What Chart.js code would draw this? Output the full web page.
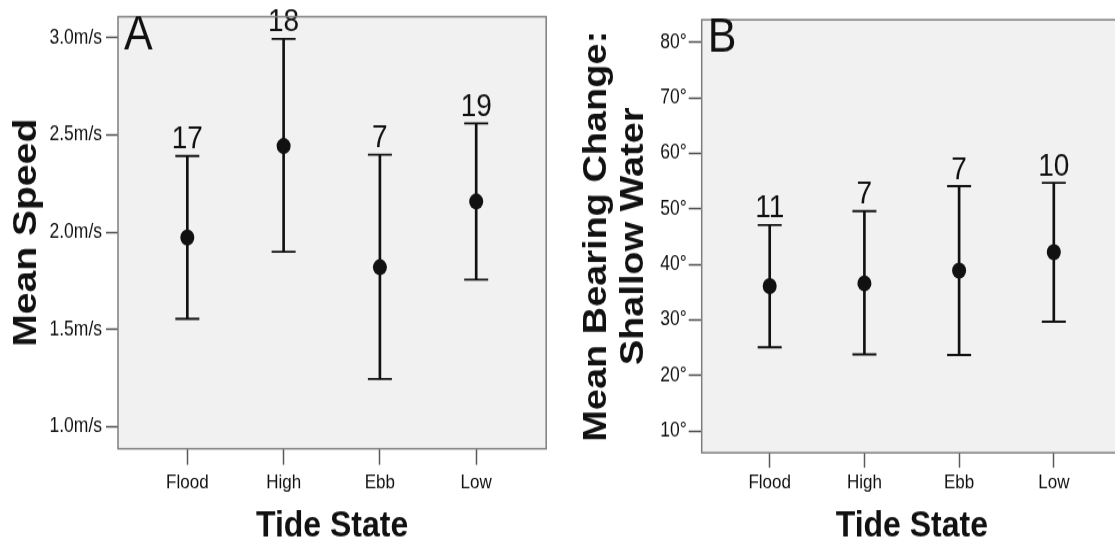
<!DOCTYPE html>
<html>
<head>
<meta charset="utf-8">
<script src="https://cdn.jsdelivr.net/npm/chart.js@4.4.1/dist/chart.umd.min.js"></script>
<style>
  html, body { margin: 0; padding: 0; background: #fff; overflow: hidden; }
  #page { position: relative; width: 1115px; height: 548px; overflow: hidden; }
  /* panels are drawn a bit shorter and stretched vertically */
  .panel { position: absolute; top: 0; transform-origin: 0 0; transform: scaleY(1.1488); }
  #panelA { left: 0; }
  #panelB { left: 560px; }
</style>
</head>
<body>
<div id="page">
  <div class="panel" id="panelA"><canvas id="chartA" width="560" height="477"></canvas></div>
  <div class="panel" id="panelB"><canvas id="chartB" width="580" height="477"></canvas></div>
</div>
<script>
const tideStates = ['Flood', 'High', 'Ebb', 'Low'];

// A: mean speed (m/s) with error bars
const speedMean  = [1.974, 2.444, 1.821, 2.159];
const speedLower = [1.556, 1.901, 1.247, 1.758];
const speedUpper = [2.393, 2.995, 2.400, 2.560];
const speedN     = [17, 18, 7, 19];
const speedTicks = [1.0, 1.5, 2.0, 2.5, 3.0];

// B: mean bearing change in shallow water (degrees)
const bearingMean  = [36.1, 36.6, 38.9, 42.2];
const bearingLower = [25.1, 23.8, 23.7, 29.7];
const bearingUpper = [47.1, 49.6, 54.1, 54.7];
const bearingN     = [11, 7, 7, 10];
const bearingTicks = [10, 20, 30, 40, 50, 60, 70, 80];

const FONT = "'Liberation Sans', Arial, Helvetica, sans-serif";
const INK = '#111';

const framePlugin = {
  id: 'frame',
  beforeDraw(chart) {
    const { ctx, chartArea: a } = chart;
    ctx.save();
    ctx.fillStyle = '#f1f1f1';
    ctx.fillRect(a.left, a.top, a.width, a.height);
    ctx.restore();
  },
  afterDraw(chart, args, opts) {
    const { ctx, chartArea: a } = chart;
    ctx.save();
    ctx.strokeStyle = '#7d7d7d';
    ctx.lineWidth = 1.5;
    ctx.strokeRect(a.left, a.top, a.width, a.height);
    // panel letter
    ctx.fillStyle = INK;
    ctx.font = '43px ' + FONT;
    ctx.textAlign = 'left';
    ctx.textBaseline = 'alphabetic';
    ctx.fillText(opts.letter, a.left + 6, a.top + 28);
    ctx.restore();
  }
};

// sample sizes written above each upper cap
const countPlugin = {
  id: 'counts',
  afterDatasetsDraw(chart, args, opts) {
    const { ctx, scales } = chart;
    ctx.save();
    ctx.fillStyle = INK;
    ctx.font = '28px ' + FONT;
    ctx.textAlign = 'center';
    ctx.textBaseline = 'alphabetic';
    opts.n.forEach((n, i) => {
      const x = scales.x.getPixelForValue(i);
      const y = scales.y.getPixelForValue(opts.upper[i]) - 6.5;
      ctx.fillText(String(n), x, y);
    });
    ctx.restore();
  }
};

function makePanel(id, cfg) {
  const pts = arr => arr.map((v, i) => ({ x: i, y: v }));
  return new Chart(document.getElementById(id), {
    type: 'scatter',
    data: {
      datasets: [
        {
          // means
          data: pts(cfg.mean),
          pointStyle: 'circle',
          pointRadius: 7,
          pointHoverRadius: 7,
          backgroundColor: INK,
          borderWidth: 0,
          order: 0
        },
        {
          // caps
          data: pts(cfg.lower).concat(pts(cfg.upper)),
          pointStyle: 'line',
          pointRadius: 12,
          pointHoverRadius: 12,
          borderColor: INK,
          borderWidth: 1.8,
          order: 1
        },
        {
          // whiskers
          type: 'bar',
          data: cfg.lower.map((lo, i) => ({ x: i, y: [lo, cfg.upper[i]] })),
          backgroundColor: INK,
          borderWidth: 0,
          barThickness: 2,
          order: 2
        }
      ]
    },
    options: {
      responsive: false,
      animation: false,
      events: [],
      layout: { padding: cfg.padding },
      plugins: {
        legend: { display: false },
        tooltip: { enabled: false },
        frame: { letter: cfg.letter },
        counts: { n: cfg.n, upper: cfg.upper }
      },
      scales: {
        x: {
          type: 'linear',
          min: cfg.xMin,
          max: cfg.xMax,
          offset: false,
          afterBuildTicks: s => { s.ticks = tideStates.map((_, i) => ({ value: i })); },
          afterFit: s => { s.height = cfg.xHeight; },
          grid: { offset: false, drawOnChartArea: false, drawTicks: true, tickLength: cfg.xTickLen, tickWidth: 1.5, tickColor: '#5a5a5a' },
          border: { display: false },
          ticks: {
            autoSkip: false,
            maxRotation: 0,
            padding: cfg.xTickPad,
            color: INK,
            font: { family: FONT, size: 17 },
            callback: v => tideStates[v]
          },
          title: {
            display: true,
            text: 'Tide State',
            color: INK,
            font: { family: FONT, size: 32, weight: 'bold', lineHeight: 1.2 },
            padding: { top: 0, bottom: 0 }
          }
        },
        y: {
          type: 'linear',
          min: cfg.yMin,
          max: cfg.yMax,
          afterBuildTicks: s => { s.ticks = cfg.ticks.map(v => ({ value: v })); },
          afterFit: s => { s.width = cfg.yWidth; },
          grid: { drawOnChartArea: false, drawTicks: true, tickLength: cfg.yTickLen, tickWidth: 1.5, tickColor: '#4a4a4a' },
          border: { display: false },
          ticks: {
            padding: cfg.yTickPad,
            color: INK,
            font: { family: FONT, size: 17.5 },
            callback: cfg.format
          },
          title: {
            display: true,
            text: cfg.yTitle,
            color: INK,
            font: { family: FONT, size: cfg.yTitleSize, weight: 'bold', lineHeight: cfg.yTitleLH },
            padding: { top: cfg.yTitlePad, bottom: 0 }
          }
        }
      }
    },
    plugins: [framePlugin, countPlugin]
  });
}

makePanel('chartA', {
  letter: 'A',
  mean: speedMean, lower: speedLower, upper: speedUpper, n: speedN, ticks: speedTicks,
  yMin: 0.888, yMax: 3.109, xMin: -0.72, xMax: 3.727,
  format: v => v.toFixed(1) + 'm/s',
  yTitle: 'Mean Speed', yTitleSize: 34, yTitleLH: 1.12, yTitlePad: 7.8,
  padding: { top: 11.3, left: 0, right: 12, bottom: 0 },
  yWidth: 118, xHeight: 86.4,
  xTickLen: 14, xTickPad: 5.5, yTickLen: 12, yTickPad: 4
});

makePanel('chartB', {
  letter: 'B',
  mean: bearingMean, lower: bearingLower, upper: bearingUpper, n: bearingN, ticks: bearingTicks,
  yMin: 6.1, yMax: 84.05, xMin: -0.718, xMax: 3.72,
  format: v => v + '°',
  yTitle: ['Mean Bearing Change:', 'Shallow Water'], yTitleSize: 33, yTitleLH: 1.12, yTitlePad: 18,
  padding: { top: 17.2, left: 0, right: 18, bottom: 0 },
  yWidth: 141.7, xHeight: 82.9,
  xTickLen: 13, xTickPad: 3.3, yTickLen: 13, yTickPad: 2
});
</script>
</body>
</html>
